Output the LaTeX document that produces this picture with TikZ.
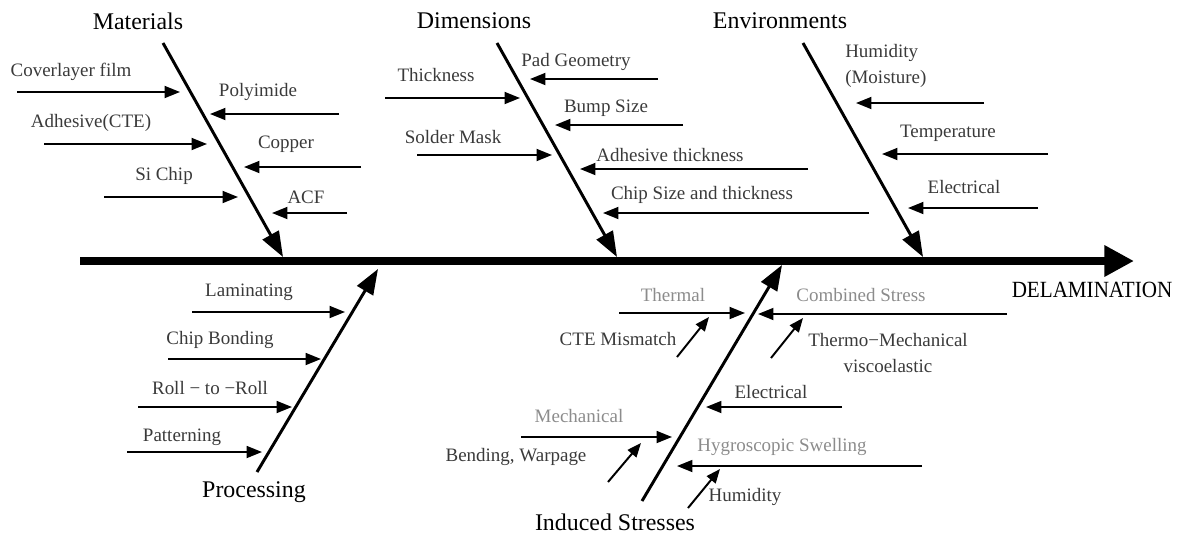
\documentclass[tikz,border=0pt]{standalone}
\usepackage{fontspec}
\setmainfont{Liberation Serif}
\usetikzlibrary{arrows.meta}
\definecolor{causegray}{HTML}{3A3A3A}
\definecolor{stressgray}{HTML}{8C8C8C}
\tikzset{
  spine/.style={line width=5.8pt,-{Triangle[length=21pt,width=21pt]}},
  bone/.style={line width=2.1pt,-{Triangle[length=18pt,width=13pt]}},
  twig/.style={line width=1.4pt,-{Triangle[length=11pt,width=8.5pt]}},
  title/.style={font=\fontsize{17}{20}\selectfont,inner sep=0pt},
  cause/.style={font=\fontsize{13.5}{19}\selectfont,text=causegray,inner sep=0pt},
  stress/.style={cause,text=stressgray},
}

\begin{document}
\begin{tikzpicture}[x=0.025cm,y=-0.025cm]
    \useasboundingbox (0,0) rectangle (1184,534); % one unit is one pixel

    \coordinate (SpineTail) at (80,261);
    \coordinate (SpineHead) at (1134,261);
    \draw[spine] (SpineTail) -- (SpineHead);
    \node[title,font=\fontsize{15}{18}\selectfont] (Delam) at (1092,290)
      {\scalebox{1}[1.1]{DELAMINATION}};

    % main bones and their titles
    \foreach \nm/\xa/\ya/\xb/\yb in {Mat/163/43/283/257, Dim/497/43/617/257,
      Env/803/43/923/257, Pro/257/472/378/269, Ind/642/501/782/265}{
      \coordinate (\nm Top) at (\xa,\ya);
      \coordinate (\nm Tip) at (\xb,\yb);
      \draw[bone] (\nm Top) -- (\nm Tip);
    }
    \node[title] (Materials)    at (138,21)  {Materials};
    \node[title] (Dimensions)   at (474,21)  {Dimensions};
    \node[title] (Environments) at (780,21)  {Environments};
    \node[title] (Processing)   at (254,492) {Processing};
    \node[title] (Induced)      at (615,522) {Induced Stresses};

    % horizontal cause arrows: name/tail x/head x/y
    \foreach \nm/\xa/\xb/\y in {Cover/17/180/92, Poly/339/210/114,
      AdhCte/44/207/144, Copper/361/244/167, SiChip/104/238/197, Acf/347/272/213,
      Thick/385/520/98, Pad/658/530/79, Bump/683/555/125, Solder/417/552/155,
      AdhThick/808/580/169, ChipSize/869/603/213,
      HumEnv/984/856/103, Temp/1048/882/154, ElecEnv/1038/908/208,
      Lamin/192/345/312, Bond/168/321/359, Roll/138/292/407, Pattern/127/262/452,
      Thermal/619/745/313, Combined/1007/758/314, ElecInd/842/706/407,
      Mech/521/672/437, Hygro/922/677/466}{%
      \coordinate (\nm Tail) at (\xa,\y);
      \coordinate (\nm Head) at (\xb,\y);
      \draw[twig] (\nm Tail) -- (\nm Head);
    }

    % short slanted arrows under the stresses
    \foreach \nm/\xa/\ya/\xb/\yb in {Cte/677/357/709/317, Thermo/771/358/803/318,
      Bend/608/482/641/443, HumInd/688/508/720/469}{%
      \coordinate (\nm Tail) at (\xa,\ya);
      \coordinate (\nm Head) at (\xb,\yb);
      \draw[twig,-{Triangle[length=10pt,width=8pt]}] (\nm Tail) -- (\nm Head);
    }

    % labels
    \foreach \nm/\x/\y/\txt in {CoverL/71/72/Coverlayer film, PolyL/258/92/Polyimide,
      AdhCteL/91/123/Adhesive(CTE), CopperL/286/144/Copper, SiChipL/164/176/Si Chip,
      AcfL/306/197/ACF, ThickL/436/75/Thickness, PadL/576/62/Pad Geometry,
      BumpL/606/108/Bump Size, SolderL/453/137/Solder Mask,
      AdhThickL/670/155/Adhesive thickness, ChipSizeL/702/195/Chip Size and thickness,
      TempL/948/133/Temperature, ElecEnvL/964/187/Electrical,
      LaminL/249/292/Laminating, BondL/220/340/Chip Bonding,
      RollL/210/388/Roll − to −Roll, PatternL/182/437/Patterning,
      CteL/618/339/CTE Mismatch, ElecIndL/771/392/Electrical,
      BendL/516/457/{Bending, Warpage}, HumIndL/745/497/Humidity}{%
      \node[cause] (\nm) at (\x,\y) {\txt};
    }
    \node[cause,align=left,anchor=west] (HumEnvL) at (845,66) {Humidity\\ (Moisture)};
    \node[cause,align=center] (ThermoL) at (888,353) {Thermo−Mechanical\\viscoelastic};
    \foreach \nm/\x/\y/\txt in {ThermalL/673/295/Thermal,
      CombinedL/861/295/Combined Stress, MechL/579/416/Mechanical,
      HygroL/782/447/Hygroscopic Swelling}{%
      \node[stress] (\nm) at (\x,\y) {\txt};
    }
\end{tikzpicture}
\end{document}
